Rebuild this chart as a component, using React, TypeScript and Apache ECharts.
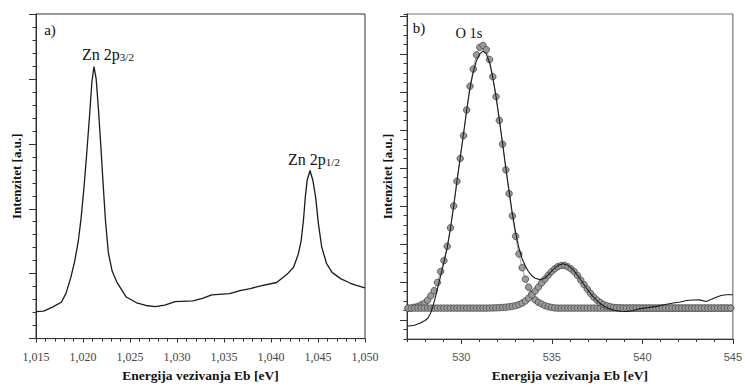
import React, { useEffect, useRef } from "react";
import * as echarts from "echarts";

// Panel a) Zn 2p spectrum: [binding energy eV, intensity a.u.]
const znSpectrum: number[][] = [
  [1015.0, 2.07], [1015.8, 2.12], [1016.7, 2.4], [1017.7, 2.8], [1018.2, 3.5],
  [1018.7, 4.7], [1019.1, 5.9], [1019.5, 7.5], [1019.8, 9.3], [1020.1, 11.6],
  [1020.4, 14.3], [1020.7, 17.2], [1020.95, 19.8], [1021.17, 20.95], [1021.4, 20.0],
  [1021.65, 17.6], [1021.9, 14.8], [1022.15, 11.8], [1022.4, 9.0], [1022.7, 6.6],
  [1023.1, 5.2], [1023.6, 4.35], [1024.6, 3.2], [1025.7, 2.76], [1026.7, 2.55],
  [1027.7, 2.46], [1028.7, 2.58], [1029.8, 2.84], [1031.7, 2.91], [1032.7, 3.1],
  [1033.7, 3.37], [1035.6, 3.47], [1036.7, 3.7], [1037.8, 3.85], [1038.8, 4.05],
  [1040.6, 4.32], [1041.7, 4.95], [1042.4, 5.5], [1042.9, 6.5], [1043.2, 7.5],
  [1043.45, 9.1], [1043.65, 10.9], [1043.85, 12.2], [1044.15, 12.95], [1044.45, 12.2],
  [1044.75, 10.9], [1045.05, 8.8], [1045.4, 7.05], [1045.9, 5.8], [1046.5, 5.1],
  [1047.4, 4.62], [1048.4, 4.28], [1049.0, 4.12], [1050.0, 3.9],
];

// Panel b) O 1s: fitted components sampled on the measurement grid
const oEnergy: number[] = [
  527.06, 527.24, 527.42, 527.60, 527.78, 527.96, 528.14, 528.32, 528.50, 528.68,
  528.86, 529.04, 529.22, 529.40, 529.58, 529.76, 529.94, 530.12, 530.30, 530.48,
  530.66, 530.84, 531.02, 531.20, 531.38, 531.56, 531.74, 531.92, 532.10, 532.28,
  532.46, 532.64, 532.82, 533.00, 533.18, 533.36, 533.54, 533.72, 533.90, 534.08,
  534.26, 534.44, 534.62, 534.80, 534.98, 535.16, 535.34, 535.52, 535.70, 535.88,
  536.06, 536.24, 536.42, 536.60, 536.78, 536.96, 537.14, 537.32, 537.50, 537.68,
  537.86, 538.04, 538.22, 538.40, 538.58, 538.76, 538.94, 539.12, 539.30, 539.48,
  539.66, 539.84, 540.02, 540.20, 540.38, 540.56, 540.74, 540.92, 541.10, 541.28,
  541.46, 541.64, 541.82, 542.00, 542.18, 542.36, 542.54, 542.72, 542.90, 543.08,
  543.26, 543.44, 543.62, 543.80, 543.98, 544.16, 544.34, 544.52, 544.70, 544.88,
];

const oMainComponent: number[] = [
  3.23, 3.25, 3.35, 3.42, 3.59, 3.75, 4.08, 4.55, 5.08, 5.95,
  7.10, 8.25, 9.75, 11.7, 14.0, 16.6, 19.0, 21.4, 24.1, 26.6,
  28.4, 29.9, 30.7, 30.9, 30.45, 29.4, 27.6, 25.5, 23.0, 20.5,
  17.8, 15.3, 12.95, 10.8, 8.95, 7.5, 6.3, 5.45, 4.75, 4.12,
  3.85, 3.68, 3.50, 3.40, 3.33, 3.27, 3.25, 3.25, 3.25, 3.25,
  3.25, 3.25, 3.25, 3.25, 3.25, 3.25, 3.25, 3.25, 3.25, 3.25,
  3.25, 3.25, 3.25, 3.25, 3.25, 3.25, 3.25, 3.25, 3.25, 3.25,
  3.25, 3.25, 3.25, 3.25, 3.25, 3.25, 3.25, 3.25, 3.25, 3.25,
  3.25, 3.25, 3.25, 3.25, 3.25, 3.25, 3.25, 3.25, 3.25, 3.25,
  3.25, 3.25, 3.25, 3.25, 3.25, 3.25, 3.25, 3.25, 3.25, 3.25,
];

const oSecondComponent: number[] = [
  3.25, 3.25, 3.25, 3.25, 3.25, 3.25, 3.25, 3.25, 3.25, 3.25,
  3.25, 3.25, 3.25, 3.25, 3.25, 3.25, 3.25, 3.25, 3.25, 3.25,
  3.25, 3.25, 3.25, 3.25, 3.25, 3.26, 3.27, 3.28, 3.30, 3.32,
  3.35, 3.39, 3.44, 3.51, 3.62, 3.78, 4.00, 4.30, 4.65, 5.05,
  5.47, 5.90, 6.30, 6.72, 7.08, 7.38, 7.62, 7.74, 7.75, 7.60,
  7.38, 7.08, 6.68, 6.20, 5.72, 5.25, 4.80, 4.40, 4.08, 3.83,
  3.63, 3.50, 3.40, 3.33, 3.29, 3.27, 3.25, 3.25, 3.25, 3.25,
  3.25, 3.25, 3.25, 3.25, 3.25, 3.25, 3.25, 3.25, 3.25, 3.25,
  3.25, 3.25, 3.25, 3.25, 3.25, 3.25, 3.25, 3.25, 3.25, 3.25,
  3.25, 3.25, 3.25, 3.25, 3.25, 3.25, 3.25, 3.25, 3.25, 3.25,
];

// Measured O 1s envelope: [binding energy eV, intensity a.u.]
const oEnvelope: number[][] = [
  [527.0, 1.35], [527.4, 1.45], [527.71, 1.65], [528.0, 1.95], [528.16, 2.21],
  [528.3, 2.7], [528.43, 3.43], [528.57, 4.4], [528.71, 5.51], [528.85, 6.6],
  [528.98, 7.58], [529.22, 9.6], [529.4, 11.6], [529.58, 14.0], [529.76, 16.6],
  [529.94, 19.1], [530.12, 21.6], [530.3, 24.1], [530.48, 26.4], [530.66, 28.1],
  [530.84, 29.3], [531.02, 30.0], [531.2, 30.3], [531.38, 30.0], [531.56, 29.1],
  [531.74, 27.5], [531.92, 25.5], [532.1, 23.1], [532.28, 20.6], [532.46, 18.0],
  [532.64, 15.6], [532.82, 13.2], [533.02, 11.0], [533.18, 9.6], [533.35, 8.5],
  [533.53, 7.7], [533.71, 7.1], [533.9, 6.65], [534.08, 6.4], [534.35, 6.25],
  [534.62, 6.4], [534.8, 6.75], [535.07, 7.3], [535.35, 7.75], [535.62, 7.92],
  [535.89, 7.75], [536.17, 7.3], [536.44, 6.65], [536.66, 6.05], [536.89, 5.42],
  [537.13, 4.8], [537.38, 4.25], [537.62, 3.82], [537.89, 3.45], [538.17, 3.2],
  [538.44, 3.02], [538.8, 2.92], [539.17, 2.9], [539.5, 3.0], [539.89, 3.2],
  [540.3, 3.3], [540.8, 3.43], [541.2, 3.6], [541.71, 3.78], [542.1, 3.9],
  [542.44, 4.05], [542.8, 4.1], [543.16, 4.12], [543.53, 3.95], [543.8, 4.15],
  [544.08, 4.4], [544.35, 4.58], [544.62, 4.65], [545.0, 4.65],
];

const oMajorTicksX: number[] = [530, 535, 540, 545];
const oMajorTicksY: number[] = [2, 6, 10, 14, 18, 22, 26, 30, 34];

const SERIF = "Liberation Serif";
const SANS = "Liberation Sans";

export default function App() {
  const ref = useRef<HTMLDivElement>(null);

  useEffect(() => {
    const chart = echarts.init(ref.current!, null, { renderer: "svg" });
    const axisColor = "#333";
    const nameStyle = { fontFamily: SERIF, fontWeight: "bold" as const, fontSize: 13.5, color: "#111" };
    const yNameStyle = { fontFamily: SERIF, fontWeight: "bold" as const, fontSize: 13, color: "#111" };

    const circleSeries = (values: number[]) => ({
      type: "line",
      xAxisIndex: 1,
      yAxisIndex: 1,
      data: oEnergy.map((e, i) => [e, values[i]]),
      symbol: "circle",
      symbolSize: 6.5,
      showAllSymbol: true,
      itemStyle: { color: "#9a9a9a", borderColor: "#474747", borderWidth: 0.8 },
      lineStyle: { color: "#888", width: 0.8 },
      z: 2,
    });

    const subLabel = (main: string, sub: string, x: number, y: number) => ({
      type: "text", x, y,
      style: {
        text: `{m|${main}}{s|${sub}}`, textAlign: "center", textVerticalAlign: "middle",
        rich: {
          m: { fontSize: 16, fontFamily: SERIF, fill: "#111" },
          s: { fontSize: 11, fontFamily: SERIF, fill: "#111", verticalAlign: "bottom" },
        },
      },
    });

    chart.setOption({
      animation: false,
      backgroundColor: "#fff",
      textStyle: { fontFamily: SERIF },
      grid: [
        { left: 36, top: 14, width: 329, height: 329, show: true, borderColor: "#333", borderWidth: 1 },
        { left: 407, top: 14, width: 330, height: 329, show: true, borderColor: "#777", borderWidth: 1.2 },
      ],
      xAxis: [
        {
          gridIndex: 0, type: "value", min: 1015, max: 1050, interval: 5,
          axisLine: { lineStyle: { color: axisColor } },
          axisTick: { length: 4, lineStyle: { color: axisColor } },
          minorTick: { show: true, splitNumber: 5, length: 3, lineStyle: { color: axisColor } },
          splitLine: { show: false },
          axisLabel: {
            margin: 12.5, fontFamily: SERIF, fontSize: 12, color: "#444",
            formatter: (v: number) => String(v).replace(/(\d)(\d{3})$/, "$1,$2"),
          },
          name: "Energija vezivanja Eb [eV]", nameLocation: "middle", nameGap: 29,
          nameTextStyle: nameStyle,
        },
        {
          gridIndex: 1, type: "value", min: 527, max: 545, interval: 1, position: "bottom",
          axisLine: { lineStyle: { color: axisColor } },
          axisTick: { length: 3, lineStyle: { color: axisColor } },
          splitLine: { show: false },
          axisLabel: {
            margin: 12.5, fontFamily: SANS, fontSize: 11, color: "#555",
            formatter: (v: number) => (v % 5 === 0 ? String(v) : ""),
          },
          name: "Energija vezivanja Eb [eV]", nameLocation: "middle", nameGap: 29,
          nameTextStyle: nameStyle,
        },
        {
          gridIndex: 1, type: "value", min: 527, max: 545, position: "bottom", offset: 0,
          axisLine: { show: false },
          axisTick: { show: true, length: 5, customValues: oMajorTicksX, lineStyle: { color: axisColor } },
          axisLabel: { show: false },
          splitLine: { show: false },
        },
      ],
      yAxis: [
        {
          gridIndex: 0, type: "value", min: 0, max: 25, interval: 5,
          axisLine: { show: true, lineStyle: { color: axisColor } },
          axisTick: { show: true, length: 7, lineStyle: { color: axisColor } },
          minorTick: { show: true, splitNumber: 5, length: 3.5, lineStyle: { color: axisColor } },
          splitLine: { show: false },
          axisLabel: { show: false },
          name: "Intenzitet [a.u.]", nameLocation: "middle", nameGap: 13, nameRotate: 90,
          nameTextStyle: yNameStyle,
        },
        {
          gridIndex: 1, type: "value", min: 0, max: 34.2, interval: 1, position: "left",
          axisLine: { show: true, lineStyle: { color: axisColor } },
          axisTick: { show: true, length: 3.5, lineStyle: { color: axisColor } },
          splitLine: { show: false },
          axisLabel: { show: false },
          name: "Intenzitet [a.u.]", nameLocation: "middle", nameGap: 13, nameRotate: 90,
          nameTextStyle: yNameStyle,
        },
        {
          gridIndex: 1, type: "value", min: 0, max: 34.2, position: "left", offset: 0,
          axisLine: { show: false },
          axisTick: { show: true, length: 7, customValues: oMajorTicksY, lineStyle: { color: axisColor } },
          splitLine: { show: false },
          axisLabel: { show: false },
        },
      ],
      series: [
        {
          type: "line", xAxisIndex: 0, yAxisIndex: 0, data: znSpectrum,
          showSymbol: false, lineStyle: { color: "#1a1a1a", width: 1.3 },
        },
        circleSeries(oMainComponent),
        circleSeries(oSecondComponent),
        {
          type: "line", xAxisIndex: 1, yAxisIndex: 1, data: oEnvelope,
          showSymbol: false, lineStyle: { color: "#1a1a1a", width: 1.1 }, z: 3,
        },
      ],
      graphic: [
        {
          type: "text", x: 50, y: 30,
          style: { text: "a)", fontSize: 15, fontFamily: SERIF, fill: "#111", textAlign: "center", textVerticalAlign: "middle" },
        },
        subLabel("Zn 2p", "3/2", 108, 54),
        subLabel("Zn 2p", "1/2", 314, 159),
        {
          type: "text", x: 419, y: 28,
          style: { text: "b)", fontSize: 15, fontFamily: SERIF, fill: "#111", textAlign: "center", textVerticalAlign: "middle" },
        },
        {
          type: "text", x: 469, y: 33,
          style: { text: "O 1s", fontSize: 14.5, fontFamily: SERIF, fill: "#111", textAlign: "center", textVerticalAlign: "middle" },
        },
      ],
    });

    return () => chart.dispose();
  }, []);

  return (
    <div
      ref={ref}
      style={{ position: "fixed", left: 0, top: 0, width: 745, height: 387, background: "#fff" }}
    />
  );
}
